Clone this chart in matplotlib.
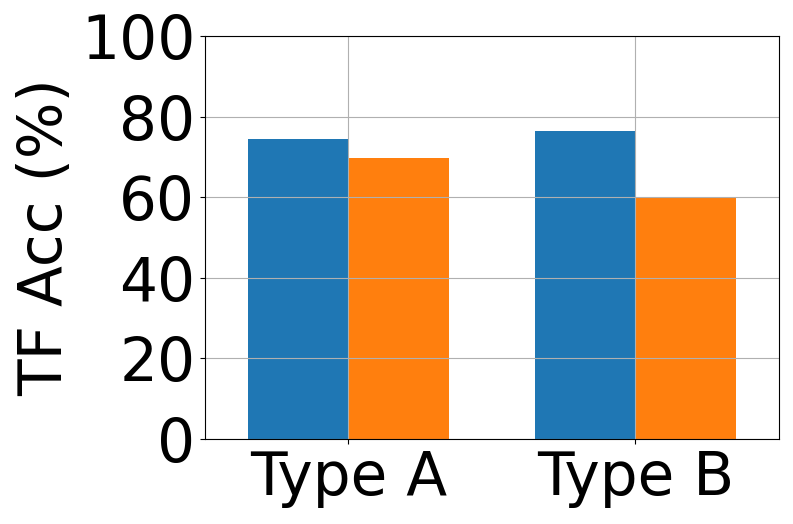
import matplotlib
matplotlib.use("Agg")
import matplotlib.pyplot as plt
import numpy as np

categories = ["Type A", "Type B"]
series1 = [74.4, 76.4]
series2 = [69.7, 59.9]
yticks = [0, 20, 40, 60, 80, 100]

fig = plt.figure(figsize=(7.93, 5.24), dpi=100)
ax = fig.add_axes([0.2585, 0.1622, 0.7238, 0.7691])
x = np.arange(len(categories))
w = 0.35
ax.bar(x - w/2, series1, w, color="#1f77b4")
ax.bar(x + w/2, series2, w, color="#ff7f0e")
ax.set_xticks(x)
ax.set_xticklabels(categories, fontsize=43)
ax.set_yticks(yticks)
ax.set_yticklabels([str(v) for v in yticks], fontsize=43)
ax.set_ylim(0, 100)
ax.set_xlim(-0.5, 1.5)
ax.set_ylabel("TF Acc (%)", fontsize=43)
ax.grid(True)
fig.savefig("out.png", dpi=100)
